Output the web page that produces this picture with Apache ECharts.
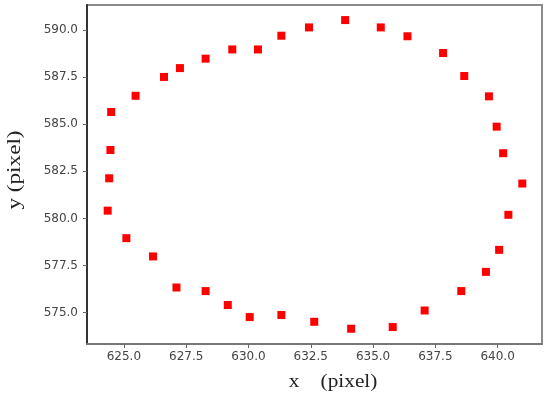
<!DOCTYPE html>
<html>
<head>
<meta charset="utf-8">
<script src="https://cdn.jsdelivr.net/npm/echarts@6/dist/echarts.min.js"></script>
<style>html,body{margin:0;padding:0;background:#fff}#c{width:550px;height:398px}</style>
</head>
<body>
<div id="c"></div>
<script>
// Data (x pixel, y pixel)
const xValues = [624.49, 625.47, 626.61, 627.25, 628.28, 629.35, 630.38, 631.32, 632.43, 633.88, 635.31, 636.38, 637.81, 638.66, 639.65, 639.96, 640.22, 640.99, 640.43, 640.06, 639.53, 638.54, 637.07, 635.79, 634.12, 632.64, 631.32, 630.05, 629.17, 628.28, 627.11, 626.17, 625.10, 624.35, 624.41, 624.46];
const yValues = [585.65, 586.51, 587.51, 587.98, 588.48, 588.97, 588.97, 589.70, 590.14, 590.53, 590.14, 589.67, 588.78, 587.56, 586.48, 584.87, 583.46, 581.85, 580.19, 578.33, 577.16, 576.14, 575.11, 574.23, 574.14, 574.51, 574.87, 574.76, 575.40, 576.14, 576.33, 577.98, 578.95, 580.41, 582.13, 583.63];
const xTicks = [625.0, 627.5, 630.0, 632.5, 635.0, 637.5, 640.0];
const yTicks = [575.0, 577.5, 580.0, 582.5, 585.0, 587.5, 590.0];
const xTitle = 'x    (pixel)';
const yTitle = 'y (pixel)';

const points = xValues.map((x, i) => [x, yValues[i]]);
const chart = echarts.init(document.getElementById('c'), null, {renderer: 'canvas'});
const labelStyle = {color: '#444', fontSize: 12, fontFamily: 'DejaVu Sans'};
const titleFont = '19px "Liberation Serif"';
chart.setOption({
  animation: false,
  grid: {left: 87, right: 8, top: 5, bottom: 54, show: true, borderColor: '#8a8a8a', borderWidth: 2},
  xAxis: {
    type: 'value', min: 623.52, max: 641.78,
    splitLine: {show: false},
    axisLine: {show: true, onZero: false, lineStyle: {color: '#777', width: 2}},
    axisTick: {show: true, length: 4, customValues: xTicks, lineStyle: {color: '#666'}},
    axisLabel: Object.assign({margin: 7, customValues: xTicks, formatter: v => v.toFixed(1)}, labelStyle)
  },
  yAxis: {
    type: 'value', min: 573.33, max: 591.33,
    splitLine: {show: false},
    axisLine: {show: true, onZero: false, lineStyle: {color: '#333', width: 2}},
    axisTick: {show: true, length: 4, customValues: yTicks, lineStyle: {color: '#666'}},
    axisLabel: Object.assign({margin: 9, customValues: yTicks, formatter: v => v.toFixed(1)}, labelStyle)
  },
  graphic: [
    {type: 'text', x: 333, y: 382, scaleX: 1.12,
     style: {text: xTitle, font: titleFont, fill: '#222', align: 'center', verticalAlign: 'middle'}},
    {type: 'text', x: 15, y: 170, rotation: Math.PI / 2, scaleX: 1.22,
     style: {text: yTitle, font: titleFont, fill: '#222', align: 'center', verticalAlign: 'middle'}}
  ],
  series: [{
    type: 'scatter', data: points, symbol: 'rect', symbolSize: 8,
    itemStyle: {color: '#ff0000', opacity: 1}
  }]
});
</script>
</body>
</html>
